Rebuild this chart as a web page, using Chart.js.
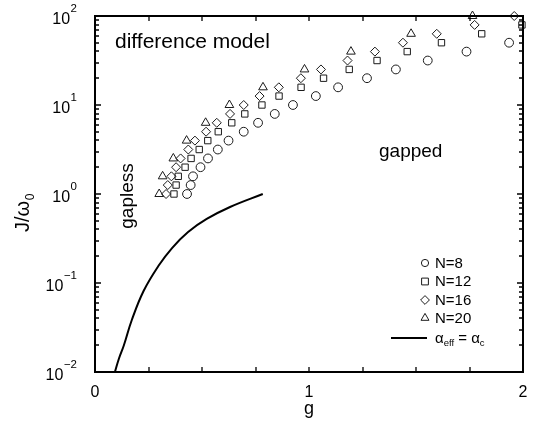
<!DOCTYPE html>
<html><head><meta charset="utf-8">
<script src="https://cdn.jsdelivr.net/npm/chart.js@4.4.0/dist/chart.umd.min.js"></script>
<style>html,body{margin:0;padding:0;background:#fff;} canvas{display:block;}</style>
</head><body>
<canvas id="c" width="536" height="432"></canvas>
<script>
const FONT = '"Liberation Sans", Arial, Helvetica, sans-serif';

// ---- data ----
const jN8  = [1, 1.26, 1.58, 2.0, 2.51, 3.16, 3.98, 5.01, 6.31, 7.94, 10, 12.6, 15.8, 20.0, 25.1, 31.6, 39.8, 50.1];
const gN8  = [0.430, 0.447, 0.458, 0.493, 0.528, 0.574, 0.624, 0.695, 0.762, 0.840, 0.925, 1.032, 1.136, 1.271, 1.406, 1.555, 1.736, 1.935];

const jN12 = [1, 1.26, 1.58, 2.0, 2.51, 3.16, 3.98, 5.01, 6.31, 7.94, 10, 12.6, 15.8, 20.0, 25.1, 31.6, 39.8, 50.1, 63.1, 79.4];
const gN12 = [0.369, 0.379, 0.389, 0.421, 0.449, 0.487, 0.527, 0.576, 0.639, 0.700, 0.780, 0.860, 0.963, 1.068, 1.188, 1.318, 1.459, 1.619, 1.807, 1.995];

const jN16 = [1, 1.26, 1.58, 2.0, 2.51, 3.16, 3.98, 5.01, 6.31, 7.94, 10, 12.6, 15.8, 20.0, 25.1, 31.6, 39.8, 50.1, 63.1, 79.4, 100];
const gN16 = [0.332, 0.340, 0.357, 0.379, 0.400, 0.436, 0.467, 0.519, 0.569, 0.631, 0.695, 0.769, 0.859, 0.962, 1.056, 1.180, 1.308, 1.439, 1.597, 1.774, 1.959];

const jN20 = [1, 1.58, 2.51, 3.98, 6.31, 10, 15.8, 25.1, 39.8, 63.1, 100];
const gN20 = [0.300, 0.316, 0.366, 0.428, 0.517, 0.628, 0.785, 0.979, 1.196, 1.477, 1.764];

const gLine = [0.093, 0.112, 0.135, 0.172, 0.227, 0.296, 0.360, 0.435, 0.522, 0.631, 0.784];
const jLine = [0.010, 0.0142, 0.020, 0.0384, 0.0813, 0.155, 0.247, 0.374, 0.524, 0.714, 1.0];

const xTickValues  = [0, 0.25, 0.5, 0.75, 1, 1.25, 1.5, 1.75, 2];
const xLabelValues = [0, 1, 2];
const yDecadeExps  = [-2, -1, 0, 1, 2];
const seriesLabels = ['N=8', 'N=12', 'N=16', 'N=20'];

const yTickValues = [];
for (let e = -2; e < 2; e++) for (let m = 1; m < 10; m++) yTickValues.push(+(m * Math.pow(10, e)).toPrecision(3));
yTickValues.push(100);

const pts = (g, j) => g.map((v, i) => ({x: v, y: j[i]}));
const MK = '#1a1a1a';

function marker(ctx, style, x, y, r) {
  ctx.beginPath();
  if (style === 'circle') ctx.arc(x, y, r, 0, Math.PI * 2);
  else if (style === 'rect') { const s = r * Math.SQRT1_2; ctx.rect(x - s, y - s, 2 * s, 2 * s); }
  else if (style === 'rectRot') { ctx.moveTo(x - r, y); ctx.lineTo(x, y - r); ctx.lineTo(x + r, y); ctx.lineTo(x, y + r); ctx.closePath(); }
  else if (style === 'triangle') {
    for (let k = 0; k < 3; k++) { const a = k * 2 * Math.PI / 3; const px = x + Math.sin(a) * r, py = y - Math.cos(a) * r; k ? ctx.lineTo(px, py) : ctx.moveTo(px, py); }
    ctx.closePath();
  }
  ctx.stroke();
}

const decor = {
  id: 'decor',
  afterDraw(chart) {
    const ctx = chart.ctx;
    const a = chart.chartArea;
    const xs = chart.scales.x, ys = chart.scales.y;
    ctx.save();
    ctx.strokeStyle = '#000';
    ctx.fillStyle = '#000';
    // frame
    ctx.lineWidth = 2;
    ctx.strokeRect(a.left, a.top, a.right - a.left, a.bottom - a.top);
    // inward tick marks
    ctx.lineWidth = 1.3;
    ctx.beginPath();
    for (let i = 0; i < xTickValues.length; i++) {
      const px = Math.round(xs.getPixelForValue(xTickValues[i]));
      ctx.moveTo(px, a.bottom); ctx.lineTo(px, a.bottom - 5);
      ctx.moveTo(px, a.top); ctx.lineTo(px, a.top + 5);
    }
    for (let i = 0; i < yTickValues.length; i++) {
      const v = yTickValues[i];
      const m = v / Math.pow(10, Math.floor(Math.log10(v) + 1e-9));
      const len = Math.abs(m - 1) < 1e-6 ? 6 : 4;
      const py = Math.round(ys.getPixelForValue(v));
      ctx.moveTo(a.left, py); ctx.lineTo(a.left + len, py);
      ctx.moveTo(a.right, py); ctx.lineTo(a.right - len, py);
    }
    ctx.stroke();

    // y tick labels 10^n
    ctx.textBaseline = 'alphabetic';
    yDecadeExps.forEach(e => {
      const py = ys.getPixelForValue(Math.pow(10, e));
      const ex = e < 0 ? '\u2212' + (-e) : String(e);
      ctx.font = '11.5px ' + FONT;
      const ew = ctx.measureText(ex).width;
      const right = a.left - 18;
      ctx.textAlign = 'left';
      ctx.fillText(ex, right - ew, py - 4);
      ctx.font = '16px ' + FONT;
      ctx.textAlign = 'right';
      ctx.fillText('10', right - ew - 0.5, py + 7.5);
    });

    // y axis title J/ω0
    ctx.save();
    ctx.translate(29, 232);
    ctx.rotate(-Math.PI / 2);
    ctx.textAlign = 'left';
    ctx.font = '20px ' + FONT;
    const tw = ctx.measureText('J/\u03c9').width;
    ctx.fillText('J/\u03c9', 0, 0);
    ctx.font = '12px ' + FONT;
    ctx.fillText('0', tw + 0.5, 4.5);
    ctx.restore();

    // annotations
    ctx.textAlign = 'left';
    ctx.font = '21px ' + FONT;
    ctx.fillText('difference model', 115, 48);
    ctx.font = '19px ' + FONT;
    ctx.fillText('gapped', 379, 157);
    ctx.save();
    ctx.translate(133, 196);
    ctx.rotate(-Math.PI / 2);
    ctx.textAlign = 'center';
    ctx.fillText('gapless', 0, 0);
    ctx.restore();

    // legend
    const styles = ['circle', 'rect', 'rectRot', 'triangle'];
    const radii = [3.6, 4.8, 4.4, 4.6];
    const rows = [263, 281.5, 300, 318];
    ctx.strokeStyle = MK;
    ctx.lineWidth = 1;
    ctx.font = '15px ' + FONT;
    ctx.textBaseline = 'middle';
    styles.forEach((s, i) => {
      marker(ctx, s, 425, rows[i], radii[i]);
      ctx.fillText(seriesLabels[i], 435, rows[i] + 0.5);
    });
    ctx.strokeStyle = '#000';
    ctx.lineWidth = 2;
    ctx.beginPath(); ctx.moveTo(391, 338); ctx.lineTo(427, 338); ctx.stroke();
    ctx.textBaseline = 'alphabetic';
    let cx = 435; const base = 343;
    const part = (txt, size, dy) => { ctx.font = size + 'px ' + FONT; ctx.fillText(txt, cx, base + dy); cx += ctx.measureText(txt).width; };
    part('\u03b1', 15, 0); part('eff', 9.5, 3); part(' = ', 15, 0); part('\u03b1', 15, 0); part('c', 9.5, 3);
    ctx.restore();
  }
};

const pointSet = (label, g, j, style, r) => ({
  label, data: pts(g, j), pointStyle: style, pointRadius: r,
  borderColor: MK, backgroundColor: 'rgba(0,0,0,0)', pointBorderWidth: 1, showLine: false, clip: false
});

new Chart(document.getElementById('c'), {
  type: 'scatter',
  data: {
    datasets: [
      pointSet(seriesLabels[0], gN8, jN8, 'circle', 4.4),
      pointSet(seriesLabels[1], gN12, jN12, 'rect', 4.5),
      pointSet(seriesLabels[2], gN16, jN16, 'rectRot', 4.5),
      pointSet(seriesLabels[3], gN20, jN20, 'triangle', 5),
      {label: '\u03b1eff = \u03b1c', data: pts(gLine, jLine), showLine: true, pointRadius: 0,
       borderColor: '#000', borderWidth: 2, tension: 0.4, fill: false}
    ]
  },
  options: {
    responsive: false, animation: false, devicePixelRatio: 1,
    layout: {padding: {top: 16, right: 13, left: 0, bottom: 0}},
    plugins: {legend: {display: false}, tooltip: {enabled: false}},
    scales: {
      x: {
        type: 'linear', min: 0, max: 2,
        grid: {display: false}, border: {display: false},
        afterBuildTicks: s => { s.ticks = xTickValues.map(v => ({value: v})); },
        afterFit: s => { s.height = 60; },
        ticks: {autoSkip: false, maxRotation: 0, padding: 3, color: '#000',
                font: {family: FONT, size: 16},
                callback: v => xLabelValues.includes(v) ? String(v) : ''},
        title: {display: true, text: 'g', color: '#000', font: {family: FONT, size: 18},
                padding: {top: 0, bottom: 12}}
      },
      y: {
        type: 'logarithmic', min: 0.01, max: 100,
        grid: {display: false}, border: {display: false},
        afterBuildTicks: s => { s.ticks = yTickValues.map(v => ({value: v})); },
        afterFit: s => { s.width = 95; },
        ticks: {display: false}
      }
    }
  },
  plugins: [decor]
});
</script>
</body></html>
